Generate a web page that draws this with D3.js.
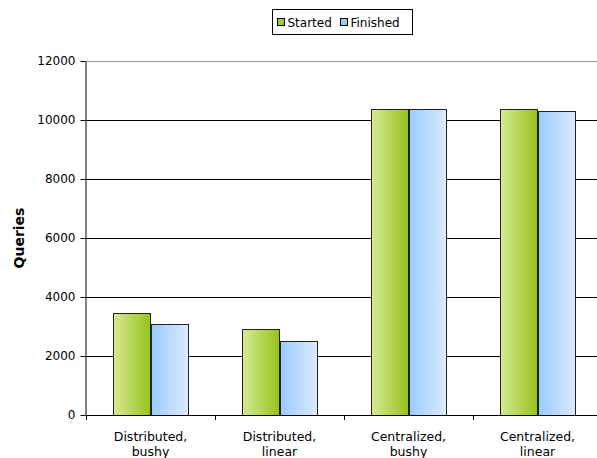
<!DOCTYPE html>
<html>
<head>
<meta charset="utf-8">
<script src="https://cdn.jsdelivr.net/npm/d3@7"></script>
<style>
body { margin: 0; background: #fff; }
text { font-family: "DejaVu Sans", Verdana, sans-serif; }
</style>
</head>
<body>
<script>
var categories = [["Distributed,", "bushy"], ["Distributed,", "linear"], ["Centralized,", "bushy"], ["Centralized,", "linear"]];
var seriesNames = ["Started", "Finished"];
var started = [3450, 2900, 10370, 10370];
var finished = [3080, 2500, 10370, 10300];
var yTicks = [0, 2000, 4000, 6000, 8000, 10000, 12000];

var width = 597, height = 458;
var margin = {left: 86, right: -5, top: 61, bottom: 43};
var w = width - margin.left - margin.right;
var h = height - margin.top - margin.bottom;

var svg = d3.select("body").append("svg").attr("width", width).attr("height", height);

var defs = svg.append("defs");
var g1 = defs.append("linearGradient").attr("id", "gStarted");
g1.append("stop").attr("offset", "0%").attr("stop-color", "#d6ea94");
g1.append("stop").attr("offset", "100%").attr("stop-color", "#96c31a");
var g2 = defs.append("linearGradient").attr("id", "gFinished");
g2.append("stop").attr("offset", "0%").attr("stop-color", "#99ccff");
g2.append("stop").attr("offset", "100%").attr("stop-color", "#dceaff");
var fills = ["url(#gStarted)", "url(#gFinished)"];

var x = d3.scaleBand().domain(d3.range(categories.length)).range([0, w]).paddingInner(0.42).paddingOuter(0.21);
var x1 = d3.scaleBand().domain(d3.range(seriesNames.length)).range([0, x.bandwidth()]);
var y = d3.scaleLinear().domain([0, 12000]).range([h, 0]);

var plot = svg.append("g").attr("transform", "translate(" + margin.left + "," + margin.top + ")");

// gridlines
plot.selectAll("line.grid").data(yTicks.slice(1)).enter().append("line")
  .attr("x1", 0).attr("x2", w)
  .attr("y1", function(d){ return Math.round(y(d)) + 0.5; })
  .attr("y2", function(d){ return Math.round(y(d)) + 0.5; })
  .attr("stroke", function(d){ return d == 12000 ? "#999" : "#000"; })
  .attr("stroke-width", 1);

var data = [started, finished];
plot.selectAll("g.series").data(data).enter().append("g")
  .attr("class", "series")
  .each(function(vals, si) {
    d3.select(this).selectAll("rect").data(vals).enter().append("rect")
      .attr("x", function(d, i){ return Math.round(x(i) + x1(si)) + 0.5; })
      .attr("y", function(d){ return Math.round(y(d)) + 0.5; })
      .attr("width", Math.round(x1.bandwidth()))
      .attr("height", function(d){ return Math.round(h - y(d)); })
      .attr("fill", fills[si])
      .attr("stroke", "#222")
      .attr("stroke-width", 1);
  });

// y axis
var yAxis = plot.append("g").attr("transform", "translate(-0.5,0)")
  .call(d3.axisLeft(y).tickValues(yTicks).tickFormat(d3.format("d")).tickSize(5).tickSizeOuter(0));
yAxis.select(".domain").attr("stroke", "#000");
yAxis.selectAll("text").attr("font-size", 12).attr("fill", "#000").attr("font-family", "DejaVu Sans, Verdana, sans-serif").attr("dx", "-2");

// x axis baseline and ticks at category boundaries
plot.append("line").attr("x1", 0).attr("x2", w)
  .attr("y1", h + 0.5).attr("y2", h + 0.5).attr("stroke", "#000");
var step = x.step();
plot.selectAll("line.xtick").data(d3.range(categories.length + 1)).enter().append("line")
  .attr("x1", function(i){ return Math.round(i * step) + 0.5; })
  .attr("x2", function(i){ return Math.round(i * step) + 0.5; })
  .attr("y1", h).attr("y2", h + 5).attr("stroke", "#000");

var xl = plot.selectAll("text.xl").data(categories).enter().append("text")
  .attr("text-anchor", "middle")
  .attr("font-size", 12.5)
  .attr("transform", function(d, i){ return "translate(" + (i * step + step / 2) + "," + (h + 26) + ")"; });
xl.append("tspan").attr("x", 0).attr("y", 0).text(function(d){ return d[0]; });
xl.append("tspan").attr("x", 0).attr("y", 15).text(function(d){ return d[1]; });

// y title
svg.append("text").attr("transform", "translate(24," + (margin.top + h / 2) + ") rotate(-90)")
  .attr("text-anchor", "middle").attr("font-size", 14).attr("font-weight", "bold").text("Queries");

// legend
var lg = svg.append("g").attr("transform", "translate(272.5,9.5)");
lg.append("rect").attr("width", 140).attr("height", 25).attr("fill", "#fff").attr("stroke", "#000");
var items = lg.selectAll("g.li").data(seriesNames).enter().append("g")
  .attr("transform", function(d, i){ return "translate(" + (5 + i * 63) + ",0)"; });
items.append("rect").attr("x", 0).attr("y", 9).attr("width", 7).attr("height", 7)
  .attr("fill", function(d, i){ return i == 0 ? "#99cc33" : "#99ccff"; }).attr("stroke", "#000");
items.append("text").attr("x", 10).attr("y", 17).attr("font-size", 12).text(function(d){ return d; });
</script>
</body>
</html>
